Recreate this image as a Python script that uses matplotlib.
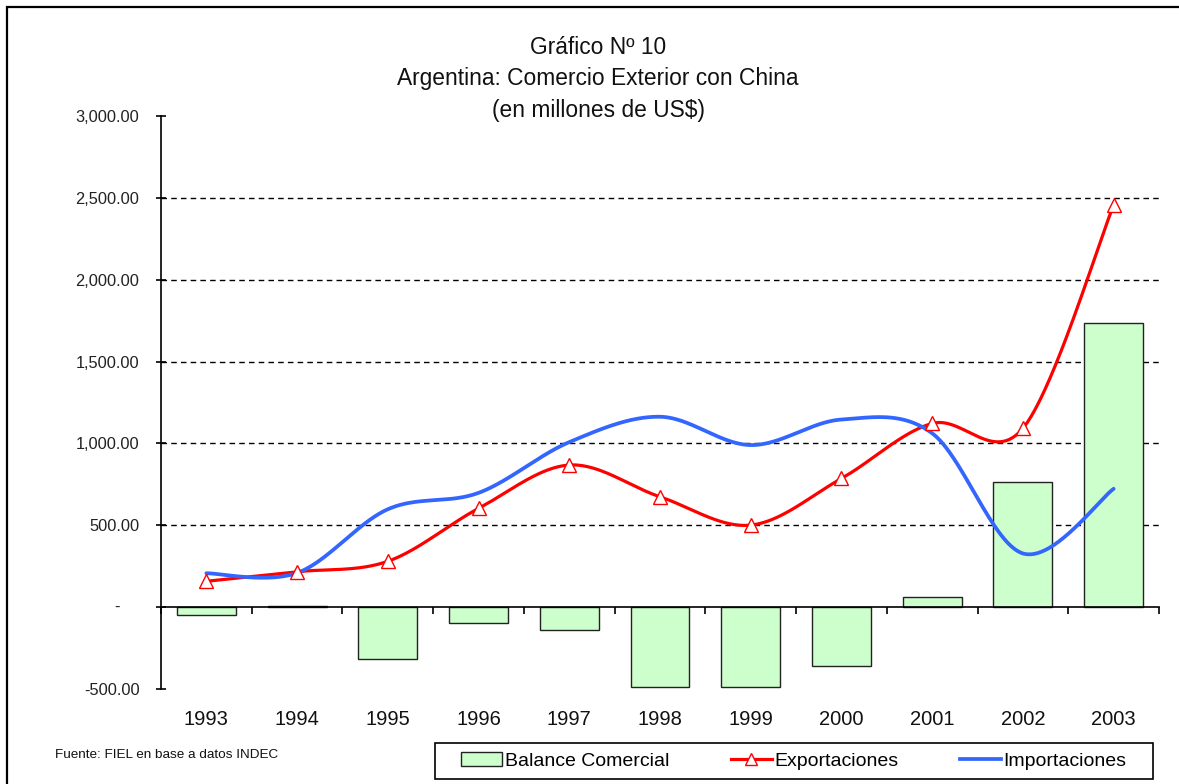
import matplotlib
matplotlib.use('Agg')
import matplotlib.pyplot as plt
import numpy as np
from matplotlib.patches import Rectangle, Patch
from matplotlib.lines import Line2D
from matplotlib.ticker import FuncFormatter, FixedLocator
import matplotlib.transforms as mtransforms

plt.rcParams['font.family'] = ['Liberation Sans', 'DejaVu Sans']

# ---- data (millions of US$) ----
years = ['1993', '1994', '1995', '1996', '1997', '1998', '1999', '2000', '2001', '2002', '2003']
exportaciones = [158, 216, 280, 603, 868, 674, 501, 786, 1122, 1092, 2456]
importaciones = [207, 209, 598, 698, 1008, 1163, 990, 1146, 1062, 328, 723]
balance = [-49, 7, -318, -95, -140, -489, -489, -360, 60, 764, 1733]
y_ticks = [-500, 0, 500, 1000, 1500, 2000, 2500, 3000]
title_lines = ['Gráfico Nº 10', 'Argentina: Comercio Exterior con China', '(en millones de US$)']
legend_labels = ['Balance Comercial', 'Exportaciones', 'Importaciones']
source_text = 'Fuente: FIEL en base a datos INDEC'


def excel_smooth(xs, ys, n=60):
    """Excel-like smoothed line (cubic Bezier with 1/6 tangents)."""
    xs = np.asarray(xs, float)
    ys = np.asarray(ys, float)
    px = np.concatenate([[xs[0]], xs, [xs[-1]]])
    py = np.concatenate([[ys[0]], ys, [ys[-1]]])
    ox, oy = [], []
    t = np.linspace(0, 1, n)
    for i in range(len(xs) - 1):
        p0 = np.array([px[i], py[i]])
        p1 = np.array([px[i + 1], py[i + 1]])
        p2 = np.array([px[i + 2], py[i + 2]])
        p3 = np.array([px[i + 3], py[i + 3]])
        c1 = p1 + (p2 - p0) / 6.0
        c2 = p2 - (p3 - p1) / 6.0
        b = ((1 - t) ** 3)[:, None] * p1 + (3 * (1 - t) ** 2 * t)[:, None] * c1 \
            + (3 * (1 - t) * t ** 2)[:, None] * c2 + (t ** 3)[:, None] * p2
        if i > 0:
            b = b[1:]
        ox.extend(b[:, 0])
        oy.extend(b[:, 1])
    return np.array(ox), np.array(oy)


W, H = 1179, 784
fig = plt.figure(figsize=(W / 100, H / 100), dpi=100)
fig.patch.set_facecolor('white')

# chart-area border (extends beyond right/bottom of the image)
fig.patches.append(Rectangle((7 / W, -0.1), 1.2, 1 - 7 / H + 0.1, transform=fig.transFigure,
                             fill=False, edgecolor='black', linewidth=1.6, clip_on=False))

ax = fig.add_axes([161 / W, 1 - 689 / H, 998 / W, 573 / H])
x = np.arange(len(years))

# gridlines
for v in y_ticks:
    if 0 < v < max(y_ticks):
        ax.axhline(v, color='black', lw=1.0, ls=(0, (4, 3)), zorder=0.5)

# bars
ax.bar(x, balance, width=0.65, color='#CCFFCC', edgecolor='#222222', linewidth=1.0, zorder=2)

# lines
ex_x, ex_y = excel_smooth(x, exportaciones)
im_x, im_y = excel_smooth(x, importaciones)
ax.plot(ex_x, ex_y, color='#FF0000', lw=2.3, zorder=3, solid_capstyle='round')
ax.plot(im_x, im_y, color='#3366FF', lw=2.7, zorder=4, solid_capstyle='round')
ax.plot(x, exportaciones, ls='none', marker='^', ms=9.5, mfc='white', mec='#FF0000', mew=1.0, zorder=5)

ax.set_xlim(-0.5, len(years) - 0.5)
ax.set_ylim(min(y_ticks), max(y_ticks))

# spines
for s in ['top', 'right']:
    ax.spines[s].set_visible(False)
ax.spines['left'].set_linewidth(1.2)
ax.spines['bottom'].set_position(('data', 0))
ax.spines['bottom'].set_linewidth(1.2)
ax.spines['bottom'].set_zorder(6)

# y axis ticks
ax.yaxis.set_major_locator(FixedLocator(y_ticks))
ax.yaxis.set_major_formatter(FuncFormatter(lambda v, p: '' if v == 0 else f'{v:,.2f}'))
ax.tick_params(axis='y', direction='inout', length=7, width=1.2, pad=12, labelsize=11.8,
               labelcolor='#222222')
ax.text(-0.0445, 0, '-', transform=mtransforms.blended_transform_factory(ax.transAxes, ax.transData),
        ha='center', va='center', fontsize=11.8, color='#222222')

# x axis: tick marks between categories at the zero line, labels at the bottom
ax.xaxis.set_major_locator(FixedLocator(np.arange(len(years) + 1) - 0.5))
ax.xaxis.set_major_formatter(FuncFormatter(lambda v, p: ''))
ax.tick_params(axis='x', direction='out', length=5, width=1.2)
tr = mtransforms.blended_transform_factory(ax.transData, ax.transAxes)
for i, yr in enumerate(years):
    ax.text(i, -0.054, yr, transform=tr, ha='center', va='center', fontsize=14.5, color='#111111')

# titles
for k, line in enumerate(title_lines):
    fig.text(598 / W, 1 - (48 + 31 * k) / H, line, ha='center', va='center', fontsize=16.4, color='#111111')

# source
fig.text(55 / W, 1 - 755 / H, source_text, ha='left', va='center', fontsize=9.7, color='#111111')

# legend (frame drawn separately)
fig.patches.append(Rectangle((435 / W, 1 - 779 / H), 718 / W, 36 / H, transform=fig.transFigure,
                             fill=True, facecolor='white', edgecolor='black', linewidth=1.2, zorder=1))
handles = [
    Patch(facecolor='#CCFFCC', edgecolor='#222222', linewidth=1.0),
    Line2D([], [], color='#FF0000', lw=2.3, marker='^', ms=9, mfc='white', mec='#FF0000'),
    Line2D([], [], color='#3366FF', lw=2.7),
]
leg = fig.legend(handles, legend_labels, loc='center', bbox_to_anchor=(794 / W, 1 - 761 / H),
                 ncol=3, frameon=False, fontsize=14,
                 handlelength=2.1, handletextpad=0.15, columnspacing=3.15, borderpad=0.2,
                 borderaxespad=0)
leg.set_zorder(3)

fig.savefig('out.png', dpi=100)
